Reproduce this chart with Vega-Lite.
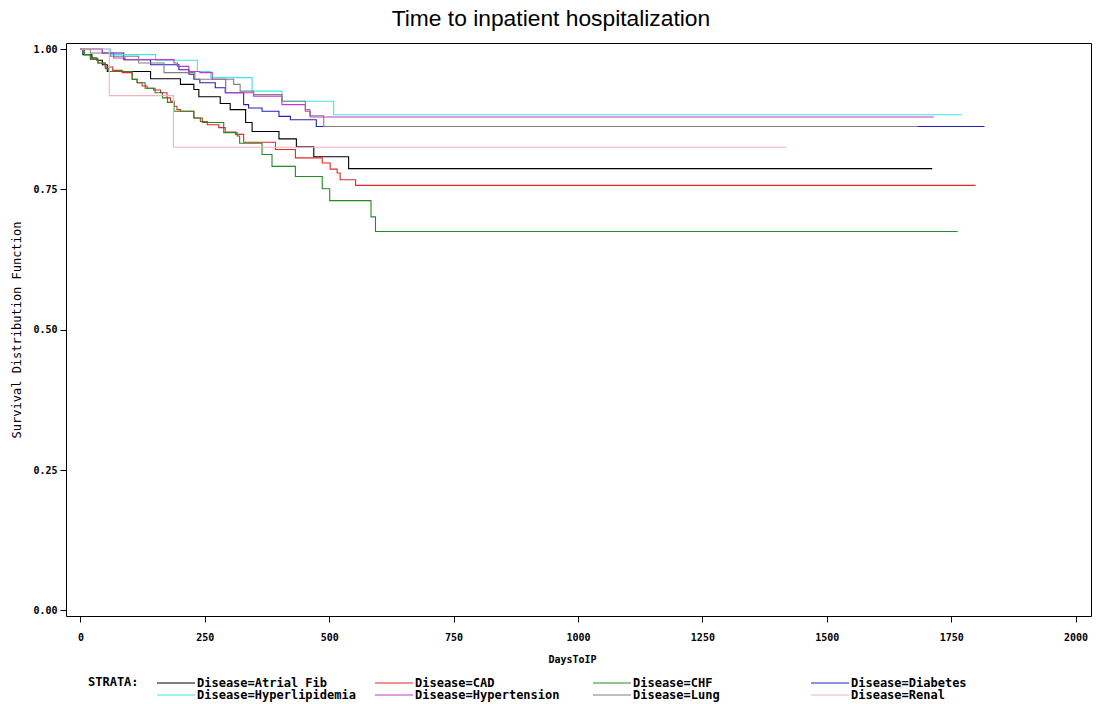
{
  "$schema": "https://vega.github.io/schema/vega-lite/v6.json",
  "width": 1025,
  "height": 573,
  "autosize": {"type": "none"},
  "padding": {"left": 66, "top": 43, "right": 11, "bottom": 88},
  "background": "white",
  "title": {
    "text": "Time to inpatient hospitalization",
    "font": "Liberation Sans",
    "fontSize": 22.8,
    "fontWeight": "normal",
    "color": "black",
    "anchor": "middle",
    "frame": "bounds",
    "offset": 12
  },
  "config": {
    "view": {"stroke": "black", "strokeWidth": 1},
    "axis": {
      "domain": false,
      "grid": false,
      "ticks": true,
      "tickColor": "black",
      "tickSize": 6,
      "labelFont": "DejaVu Sans Mono",
      "labelFontWeight": "bold",
      "labelFontSize": 10,
      "labelColor": "black",
      "titleFont": "DejaVu Sans Mono",
      "titleColor": "black"
    }
  },
  "data": {
    "values": [
      {"Disease": "Atrial Fib", "Days": 0, "Survival": 1.0},
      {"Disease": "Atrial Fib", "Days": 5, "Survival": 0.99},
      {"Disease": "Atrial Fib", "Days": 23, "Survival": 0.984},
      {"Disease": "Atrial Fib", "Days": 33, "Survival": 0.98},
      {"Disease": "Atrial Fib", "Days": 44, "Survival": 0.972},
      {"Disease": "Atrial Fib", "Days": 54, "Survival": 0.96},
      {"Disease": "Atrial Fib", "Days": 141, "Survival": 0.947},
      {"Disease": "Atrial Fib", "Days": 201, "Survival": 0.937},
      {"Disease": "Atrial Fib", "Days": 228, "Survival": 0.928},
      {"Disease": "Atrial Fib", "Days": 238, "Survival": 0.915},
      {"Disease": "Atrial Fib", "Days": 281, "Survival": 0.903},
      {"Disease": "Atrial Fib", "Days": 301, "Survival": 0.892},
      {"Disease": "Atrial Fib", "Days": 332, "Survival": 0.869},
      {"Disease": "Atrial Fib", "Days": 345, "Survival": 0.853},
      {"Disease": "Atrial Fib", "Days": 399, "Survival": 0.84},
      {"Disease": "Atrial Fib", "Days": 434, "Survival": 0.826},
      {"Disease": "Atrial Fib", "Days": 469, "Survival": 0.808},
      {"Disease": "Atrial Fib", "Days": 539, "Survival": 0.787},
      {"Disease": "Atrial Fib", "Days": 1712, "Survival": 0.787},

      {"Disease": "CAD", "Days": 0, "Survival": 1.0},
      {"Disease": "CAD", "Days": 8, "Survival": 0.99},
      {"Disease": "CAD", "Days": 20, "Survival": 0.982},
      {"Disease": "CAD", "Days": 35, "Survival": 0.975},
      {"Disease": "CAD", "Days": 50, "Survival": 0.968},
      {"Disease": "CAD", "Days": 65, "Survival": 0.962},
      {"Disease": "CAD", "Days": 84, "Survival": 0.958},
      {"Disease": "CAD", "Days": 104, "Survival": 0.946},
      {"Disease": "CAD", "Days": 114, "Survival": 0.94},
      {"Disease": "CAD", "Days": 124, "Survival": 0.934},
      {"Disease": "CAD", "Days": 134, "Survival": 0.93},
      {"Disease": "CAD", "Days": 147, "Survival": 0.927},
      {"Disease": "CAD", "Days": 161, "Survival": 0.922},
      {"Disease": "CAD", "Days": 174, "Survival": 0.913},
      {"Disease": "CAD", "Days": 181, "Survival": 0.907},
      {"Disease": "CAD", "Days": 188, "Survival": 0.898},
      {"Disease": "CAD", "Days": 194, "Survival": 0.892},
      {"Disease": "CAD", "Days": 201, "Survival": 0.889},
      {"Disease": "CAD", "Days": 228, "Survival": 0.877},
      {"Disease": "CAD", "Days": 241, "Survival": 0.871},
      {"Disease": "CAD", "Days": 255, "Survival": 0.865},
      {"Disease": "CAD", "Days": 278, "Survival": 0.86},
      {"Disease": "CAD", "Days": 291, "Survival": 0.852},
      {"Disease": "CAD", "Days": 312, "Survival": 0.848},
      {"Disease": "CAD", "Days": 328, "Survival": 0.834},
      {"Disease": "CAD", "Days": 392, "Survival": 0.821},
      {"Disease": "CAD", "Days": 432, "Survival": 0.806},
      {"Disease": "CAD", "Days": 486, "Survival": 0.797},
      {"Disease": "CAD", "Days": 502, "Survival": 0.786},
      {"Disease": "CAD", "Days": 516, "Survival": 0.779},
      {"Disease": "CAD", "Days": 522, "Survival": 0.767},
      {"Disease": "CAD", "Days": 553, "Survival": 0.757},
      {"Disease": "CAD", "Days": 1799, "Survival": 0.757},

      {"Disease": "CHF", "Days": 0, "Survival": 1.0},
      {"Disease": "CHF", "Days": 8, "Survival": 0.99},
      {"Disease": "CHF", "Days": 20, "Survival": 0.982},
      {"Disease": "CHF", "Days": 35, "Survival": 0.975},
      {"Disease": "CHF", "Days": 50, "Survival": 0.965},
      {"Disease": "CHF", "Days": 57, "Survival": 0.96},
      {"Disease": "CHF", "Days": 104, "Survival": 0.946},
      {"Disease": "CHF", "Days": 114, "Survival": 0.94},
      {"Disease": "CHF", "Days": 130, "Survival": 0.93},
      {"Disease": "CHF", "Days": 150, "Survival": 0.922},
      {"Disease": "CHF", "Days": 165, "Survival": 0.913},
      {"Disease": "CHF", "Days": 175, "Survival": 0.905},
      {"Disease": "CHF", "Days": 188, "Survival": 0.889},
      {"Disease": "CHF", "Days": 228, "Survival": 0.877},
      {"Disease": "CHF", "Days": 245, "Survival": 0.869},
      {"Disease": "CHF", "Days": 288, "Survival": 0.851},
      {"Disease": "CHF", "Days": 315, "Survival": 0.845},
      {"Disease": "CHF", "Days": 320, "Survival": 0.832},
      {"Disease": "CHF", "Days": 365, "Survival": 0.812},
      {"Disease": "CHF", "Days": 385, "Survival": 0.791},
      {"Disease": "CHF", "Days": 432, "Survival": 0.773},
      {"Disease": "CHF", "Days": 486, "Survival": 0.751},
      {"Disease": "CHF", "Days": 501, "Survival": 0.73},
      {"Disease": "CHF", "Days": 584, "Survival": 0.701},
      {"Disease": "CHF", "Days": 593, "Survival": 0.675},
      {"Disease": "CHF", "Days": 1763, "Survival": 0.675},

      {"Disease": "Diabetes", "Days": 0, "Survival": 1.0},
      {"Disease": "Diabetes", "Days": 44, "Survival": 0.993},
      {"Disease": "Diabetes", "Days": 87, "Survival": 0.981},
      {"Disease": "Diabetes", "Days": 141, "Survival": 0.972},
      {"Disease": "Diabetes", "Days": 198, "Survival": 0.963},
      {"Disease": "Diabetes", "Days": 218, "Survival": 0.955},
      {"Disease": "Diabetes", "Days": 228, "Survival": 0.946},
      {"Disease": "Diabetes", "Days": 240, "Survival": 0.94},
      {"Disease": "Diabetes", "Days": 271, "Survival": 0.931},
      {"Disease": "Diabetes", "Days": 291, "Survival": 0.922},
      {"Disease": "Diabetes", "Days": 328, "Survival": 0.901},
      {"Disease": "Diabetes", "Days": 338, "Survival": 0.895},
      {"Disease": "Diabetes", "Days": 365, "Survival": 0.889},
      {"Disease": "Diabetes", "Days": 399, "Survival": 0.88},
      {"Disease": "Diabetes", "Days": 422, "Survival": 0.874},
      {"Disease": "Diabetes", "Days": 474, "Survival": 0.862},
      {"Disease": "Diabetes", "Days": 1817, "Survival": 0.862},

      {"Disease": "Hyperlipidemia", "Days": 0, "Survival": 1.0},
      {"Disease": "Hyperlipidemia", "Days": 60, "Survival": 0.99},
      {"Disease": "Hyperlipidemia", "Days": 151, "Survival": 0.98},
      {"Disease": "Hyperlipidemia", "Days": 235, "Survival": 0.96},
      {"Disease": "Hyperlipidemia", "Days": 262, "Survival": 0.949},
      {"Disease": "Hyperlipidemia", "Days": 345, "Survival": 0.925},
      {"Disease": "Hyperlipidemia", "Days": 405, "Survival": 0.907},
      {"Disease": "Hyperlipidemia", "Days": 509, "Survival": 0.883},
      {"Disease": "Hyperlipidemia", "Days": 1771, "Survival": 0.883},

      {"Disease": "Hypertension", "Days": 0, "Survival": 1.0},
      {"Disease": "Hypertension", "Days": 44, "Survival": 0.993},
      {"Disease": "Hypertension", "Days": 67, "Survival": 0.984},
      {"Disease": "Hypertension", "Days": 90, "Survival": 0.981},
      {"Disease": "Hypertension", "Days": 188, "Survival": 0.975},
      {"Disease": "Hypertension", "Days": 195, "Survival": 0.969},
      {"Disease": "Hypertension", "Days": 218, "Survival": 0.96},
      {"Disease": "Hypertension", "Days": 240, "Survival": 0.958},
      {"Disease": "Hypertension", "Days": 265, "Survival": 0.946},
      {"Disease": "Hypertension", "Days": 292, "Survival": 0.922},
      {"Disease": "Hypertension", "Days": 348, "Survival": 0.916},
      {"Disease": "Hypertension", "Days": 405, "Survival": 0.901},
      {"Disease": "Hypertension", "Days": 452, "Survival": 0.889},
      {"Disease": "Hypertension", "Days": 462, "Survival": 0.879},
      {"Disease": "Hypertension", "Days": 1715, "Survival": 0.879},

      {"Disease": "Lung", "Days": 0, "Survival": 1.0},
      {"Disease": "Lung", "Days": 20, "Survival": 0.993},
      {"Disease": "Lung", "Days": 60, "Survival": 0.987},
      {"Disease": "Lung", "Days": 117, "Survival": 0.975},
      {"Disease": "Lung", "Days": 168, "Survival": 0.958},
      {"Disease": "Lung", "Days": 230, "Survival": 0.946},
      {"Disease": "Lung", "Days": 308, "Survival": 0.937},
      {"Disease": "Lung", "Days": 321, "Survival": 0.925},
      {"Disease": "Lung", "Days": 348, "Survival": 0.919},
      {"Disease": "Lung", "Days": 405, "Survival": 0.907},
      {"Disease": "Lung", "Days": 452, "Survival": 0.892},
      {"Disease": "Lung", "Days": 461, "Survival": 0.881},
      {"Disease": "Lung", "Days": 489, "Survival": 0.862},
      {"Disease": "Lung", "Days": 1683, "Survival": 0.862},

      {"Disease": "Renal", "Days": 0, "Survival": 1.0},
      {"Disease": "Renal", "Days": 58, "Survival": 0.917},
      {"Disease": "Renal", "Days": 187, "Survival": 0.825},
      {"Disease": "Renal", "Days": 1419, "Survival": 0.825}
    ]
  },
  "mark": {"type": "line", "interpolate": "step-after", "strokeWidth": 1.1, "clip": true},
  "encoding": {
    "x": {
      "field": "Days",
      "type": "quantitative",
      "scale": {"domain": [-29, 2031], "nice": false, "zero": false},
      "axis": {
        "values": [0, 250, 500, 750, 1000, 1250, 1500, 1750, 2000],
        "format": "d",
        "labelPadding": 10,
        "title": "DaysToIP",
        "titleFontSize": 10,
        "titleFontWeight": "bold",
        "titlePadding": 12,
        "titleX": 506
      }
    },
    "y": {
      "field": "Survival",
      "type": "quantitative",
      "scale": {"domain": [-0.0100, 1.0107], "nice": false, "zero": false},
      "axis": {
        "values": [0, 0.25, 0.5, 0.75, 1],
        "format": ".2f",
        "labelPadding": 3,
        "title": "Survival Distribution Function",
        "titleFontSize": 12,
        "titleFontWeight": "normal",
        "titlePadding": 9
      }
    },
    "color": {
      "field": "Disease",
      "type": "nominal",
      "scale": {
        "domain": ["Atrial Fib", "CAD", "CHF", "Diabetes", "Hyperlipidemia", "Hypertension", "Lung", "Renal"],
        "range": ["#000000", "#e32626", "#238b23", "#2222bb", "#3ee6e6", "#c438d0", "#808080", "#f5b0c0"]
      },
      "legend": {
        "orient": "none",
        "legendX": 22,
        "legendY": 634,
        "direction": "horizontal",
        "columns": 4,
        "gridAlign": "all",
        "columnPadding": 13,
        "rowPadding": -1,
        "padding": 0,
        "title": "STRATA:",
        "titleOrient": "left",
        "titleAnchor": "start",
        "titleFont": "DejaVu Sans Mono",
        "titleFontSize": 12,
        "titleFontWeight": "bold",
        "titleColor": "black",
        "titlePadding": 12,
        "titleBaseline": "top",
        "symbolType": "M0,0H19",
        "symbolSize": 16,
        "symbolStrokeWidth": 1,
        "labelOffset": 34,
        "labelFont": "DejaVu Sans Mono",
        "labelFontSize": 12,
        "labelFontWeight": "bold",
        "labelColor": "black",
        "labelLimit": 400,
        "labelExpr": "'Disease=' + datum.label"
      }
    }
  }
}
